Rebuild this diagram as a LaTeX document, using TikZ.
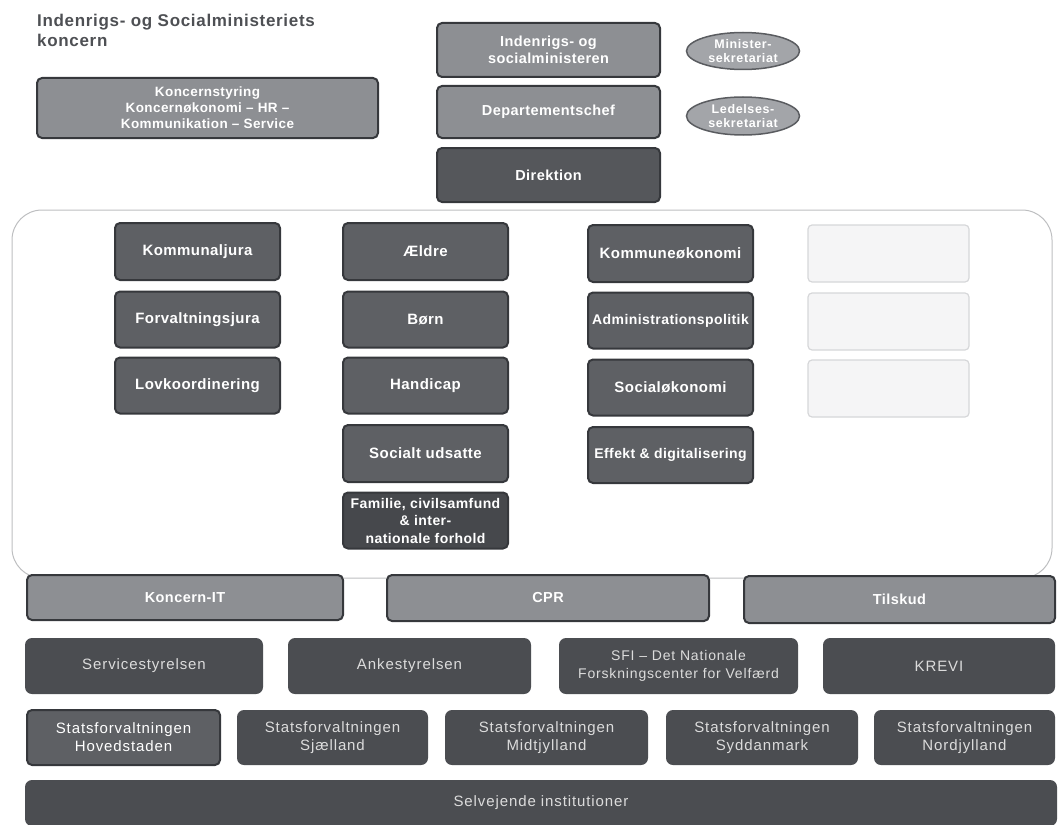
\documentclass[tikz,border=0pt]{standalone}
\usepackage{fontspec}
\setmainfont{Liberation Sans}
\newfontfamily\widefont[LetterSpace=6]{Liberation Sans}
\newfontfamily\boldwide[LetterSpace=3]{Liberation Sans Bold}
\newfontfamily\titlefont[LetterSpace=4]{Liberation Sans Bold}
\newfontfamily\ellfont[LetterSpace=5]{Liberation Sans Bold}
\usetikzlibrary{shapes.geometric}
\definecolor{midgray}{HTML}{8D8F93}
\definecolor{colgray}{HTML}{5E6064}
\definecolor{dirgray}{HTML}{55575B}
\definecolor{famgray}{HTML}{46484C}
\definecolor{boxedge}{HTML}{36383C}
\definecolor{flatgray}{HTML}{4B4D51}
\definecolor{flattext}{HTML}{DCDCDC}
\definecolor{ellfill}{HTML}{A3A5A9}
\definecolor{elledge}{HTML}{5A5C60}
\definecolor{titlegray}{HTML}{4E5054}
\definecolor{frame}{HTML}{BDBEC0}
\definecolor{palefill}{HTML}{F5F5F6}
\definecolor{paleedge}{HTML}{D6D7D9}
\begin{document}
\begin{tikzpicture}[x=1pt,y=-1pt,
  graybox/.style={draw=boxedge, line width=2pt, fill=midgray, rounded corners=5pt,
    text=white, font=\boldwide\fontsize{14.5}{17}\selectfont, align=center, inner sep=1pt},
  colbox/.style={graybox, fill=colgray, font=\boldwide\fontsize{15}{17}\selectfont},
  flatbox/.style={fill=flatgray, rounded corners=7pt, text=flattext,
    font=\widefont\fontsize{15}{18}\selectfont, align=center, inner sep=1pt},
  palebox/.style={draw=paleedge, line width=1.2pt, fill=palefill, rounded corners=4pt},
  secr/.style={ellipse, draw=elledge, line width=1.5pt, fill=ellfill, text=white,
    font=\ellfont\fontsize{12.5}{14}\selectfont, align=center, inner sep=0pt}]
\useasboundingbox (0,0) rectangle (1062,824);

% title
\node[anchor=north west, align=left, text=titlegray, inner sep=0pt,
  font=\titlefont\fontsize{17}{20}\selectfont] (title) at (37,14)
  {Indenrigs- og Socialministeriets\\koncern};

% top
\node[graybox, minimum width=341, minimum height=60,
  font=\boldwide\fontsize{13.5}{16}\selectfont] (koncern) at (207.5,108)
  {Koncernstyring\\Koncernøkonomi – HR –\\Kommunikation – Service};
\node[graybox, minimum width=223, minimum height=54] (minister) at (548.5,50)
  {Indenrigs- og\\socialministeren};
\node[graybox, minimum width=223, minimum height=52] (depchef) at (548.5,112)
  {Departementschef};
\node[graybox, fill=dirgray, minimum width=223, minimum height=54] (direktion) at (548.5,175)
  {Direktion};
\node[secr, minimum width=113, minimum height=37] (minsekr) at (743,51)
  {Minister-\\sekretariat};
\node[secr, minimum width=113, minimum height=38] (ledsekr) at (743,116)
  {Ledelses-\\sekretariat};

% department frame
\node[draw=frame, line width=1pt, rounded corners=30pt, minimum width=1040,
  minimum height=368] (dept) at (532,394) {};

% column 1
\node[colbox, minimum width=165, minimum height=57] (kjura) at (197.5,251.5) {Kommunaljura};
\node[colbox, minimum width=165, minimum height=56] (fjura) at (197.5,319.5) {Forvaltningsjura};
\node[colbox, minimum width=165, minimum height=56] (lovk) at (197.5,385.5) {Lovkoordinering};
% column 2
\node[colbox, minimum width=165, minimum height=57] (aeldre) at (425.5,251.5) {Ældre};
\node[colbox, minimum width=165, minimum height=56] (boern) at (425.5,319.5) {Børn};
\node[colbox, minimum width=165, minimum height=56] (handicap) at (425.5,385.5) {Handicap};
\node[colbox, minimum width=165, minimum height=57] (udsatte) at (425.5,453.5) {Socialt udsatte};
\node[colbox, fill=famgray, minimum width=165, minimum height=56,
  font=\boldwide\fontsize{14}{17.5}\selectfont] (familie) at (425.5,520.5)
  {Familie, civilsamfund\\\& inter-\\nationale forhold};
% column 3
\node[colbox, minimum width=165, minimum height=57] (kokonomi) at (670.5,253.5) {Kommuneøkonomi};
\node[colbox, minimum width=165, minimum height=56, font=\boldwide\fontsize{14}{17}\selectfont]
  (adminpol) at (670.5,320.5) {Administrationspolitik};
\node[colbox, minimum width=165, minimum height=56] (sokonomi) at (670.5,387.5) {Socialøkonomi};
\node[colbox, minimum width=165, minimum height=56, font=\boldwide\fontsize{14}{17}\selectfont]
  (effekt) at (670.5,455) {Effekt \& digitalisering};
% column 4 (faded)
\node[palebox, minimum width=161, minimum height=57] (pale1) at (888.5,253.5) {};
\node[palebox, minimum width=161, minimum height=57] (pale2) at (888.5,321.5) {};
\node[palebox, minimum width=161, minimum height=57] (pale3) at (888.5,388.5) {};

% shared services
\node[graybox, minimum width=316, minimum height=45] (kit) at (185,597.5) {Koncern-IT};
\node[graybox, minimum width=322, minimum height=46] (cpr) at (548,598) {CPR};
\node[graybox, minimum width=311, minimum height=47] (tilskud) at (899.5,599.5) {Tilskud};

% agencies
\node[flatbox, minimum width=238, minimum height=56] (service) at (144,666) {Servicestyrelsen};
\node[flatbox, minimum width=243, minimum height=56] (anke) at (409.5,666) {Ankestyrelsen};
\node[flatbox, minimum width=239, minimum height=56,
  font=\widefont\fontsize{14}{18}\selectfont] (sfi) at (678.5,666)
  {SFI – Det Nationale\\Forskningscenter for Velfærd};
\node[flatbox, minimum width=232, minimum height=56] (krevi) at (939,666) {KREVI};

% statsforvaltninger
\node[graybox, fill=colgray, text=white, minimum width=193, minimum height=55,
  font=\widefont\fontsize{15}{18}\selectfont] (hoved) at (123.5,737.5)
  {Statsforvaltningen\\Hovedstaden};
\node[flatbox, minimum width=191, minimum height=55] (sjael) at (332.5,737.5)
  {Statsforvaltningen\\Sjælland};
\node[flatbox, minimum width=203, minimum height=55] (midt) at (546.5,737.5)
  {Statsforvaltningen\\Midtjylland};
\node[flatbox, minimum width=192, minimum height=55] (syd) at (762,737.5)
  {Statsforvaltningen\\Syddanmark};
\node[flatbox, minimum width=181, minimum height=55] (nord) at (964.5,737.5)
  {Statsforvaltningen\\Nordjylland};

% selvejende
\node[flatbox, minimum width=1032, minimum height=46] (selv) at (541,803)
  {Selvejende institutioner};
\end{tikzpicture}
\end{document}
